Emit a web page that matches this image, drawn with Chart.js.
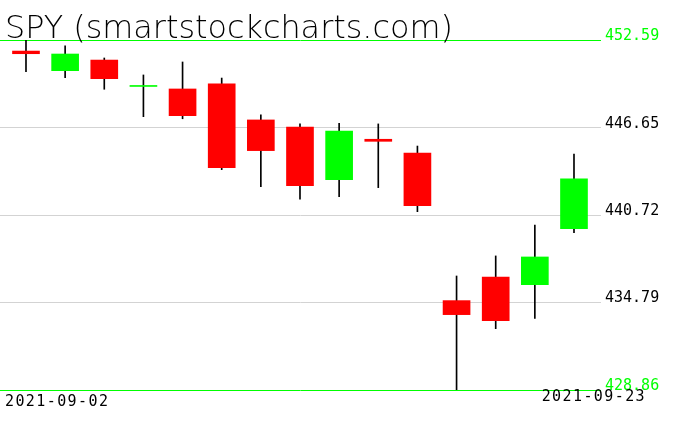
<!DOCTYPE html>
<html><head><meta charset="utf-8">
<script src="https://cdn.jsdelivr.net/npm/chart.js@4"></script>
<style>html,body{margin:0;padding:0;background:#fff}#wrap{width:676px;height:431px}</style>
</head><body><div id="wrap"><canvas id="c" width="676" height="431"></canvas></div>
<script>
const titleText = 'SPY (smartstockcharts.com)';
const dates  = ['2021-09-02','2021-09-03','2021-09-07','2021-09-08','2021-09-09','2021-09-10','2021-09-13','2021-09-14','2021-09-15','2021-09-16','2021-09-17','2021-09-20','2021-09-21','2021-09-22','2021-09-23'];
const opens  = [451.84, 450.51, 451.23, 449.44, 449.27, 449.61, 447.17, 446.69, 443.12, 445.86, 444.93, 434.92, 436.52, 436.00, 439.80];
const highs  = [452.59, 452.20, 451.37, 450.22, 451.10, 450.01, 447.51, 446.90, 446.94, 446.90, 445.40, 436.59, 437.95, 440.05, 444.86];
const lows   = [450.44, 450.03, 449.25, 447.39, 447.25, 443.80, 442.65, 441.79, 441.97, 442.58, 440.95, 428.86, 433.02, 433.72, 439.53];
const closes = [451.66, 451.64, 449.97, 449.46, 447.46, 443.93, 445.09, 442.71, 446.42, 445.72, 441.36, 433.97, 433.56, 437.88, 443.17];
const yTicks = [428.86, 434.79, 440.72, 446.65, 452.59];

const GREEN = '#00ff00', RED = '#ff0000', GRID = '#d3d3d3';
const isUp = dates.map((d, i) => closes[i] >= opens[i]);
const bodyData = dates.map((d, i) => ({ x: i, y: [opens[i], closes[i]] }));
const wickData = dates.map((d, i) => ({ x: i, y: [lows[i], highs[i]] }));

const overlay = {
  id: 'overlay',
  afterDraw(chart) {
    const ctx = chart.ctx;
    ctx.save();
    ctx.fillStyle = '#000';
    ctx.textBaseline = 'alphabetic';
    ctx.textAlign = 'left';
    ctx.font = '200 100px "DejaVu Sans", sans-serif';
    const w = ctx.measureText(titleText).width;
    const fs = 100 * 448 / w;
    ctx.font = '200 ' + fs.toFixed(2) + 'px "DejaVu Sans", sans-serif';
    ctx.fillText(titleText, 5, 38);
    ctx.font = '15px "DejaVu Sans Mono", monospace';
    try { ctx.letterSpacing = '1.4px'; } catch (e) {}
    ctx.fillText(dates[0], 5, 406);
    ctx.textAlign = 'right';
    ctx.fillText(dates[dates.length - 1], 646, 401);
    ctx.restore();
  }
};

new Chart(document.getElementById('c'), {
  type: 'bar',
  data: {
    datasets: [
      { data: bodyData, backgroundColor: isUp.map(u => u ? GREEN : RED), barThickness: 27, minBarLength: 1, grouped: false, order: 0, borderWidth: 0 },
      { data: wickData, backgroundColor: '#000000', barThickness: 1, grouped: false, order: 1, borderWidth: 0 }
    ]
  },
  options: {
    responsive: false, animation: false, devicePixelRatio: 1,
    layout: { padding: { top: 40, bottom: 41, left: 0, right: 0 } },
    plugins: { legend: { display: false }, tooltip: { enabled: false }, title: { display: false } },
    scales: {
      x: { type: 'linear', min: -0.664, max: 14.69, offset: false, display: false },
      y: {
        position: 'right', min: yTicks[0], max: yTicks[yTicks.length - 1],
        afterBuildTicks: s => { s.ticks = yTicks.map(v => ({ value: v })); },
        afterFit: s => { s.width = 75; },
        border: { display: false },
        grid: {
          color: c => (c.tick && (c.tick.value === yTicks[0] || c.tick.value === yTicks[yTicks.length - 1])) ? GREEN : GRID,
          drawTicks: false, lineWidth: 1
        },
        ticks: {
          padding: 4, labelOffset: -4, autoSkip: false,
          color: c => (c.index === 0 || c.index === yTicks.length - 1) ? GREEN : '#000',
          font: { family: '"DejaVu Sans Mono", monospace', size: 15 },
          callback: v => Number(v).toFixed(2)
        }
      }
    }
  },
  plugins: [overlay]
});
</script>
</body></html>
